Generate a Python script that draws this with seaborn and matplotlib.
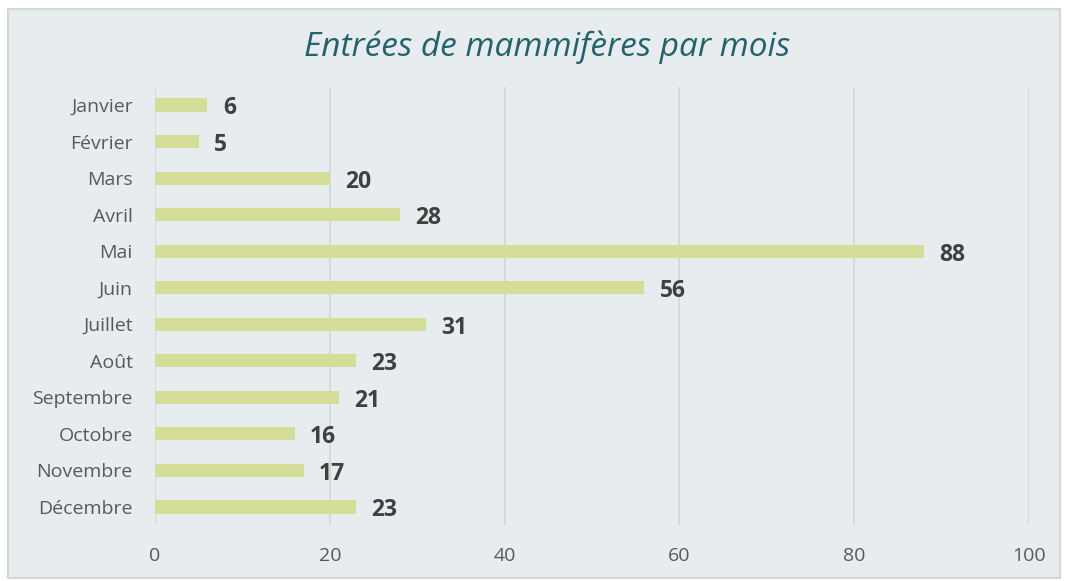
import matplotlib
matplotlib.use('Agg')
from matplotlib import pyplot as plt
from matplotlib.patches import Rectangle
import seaborn as sns
import pandas as pd

mois = ['Janvier', 'Février', 'Mars', 'Avril', 'Mai', 'Juin', 'Juillet',
        'Août', 'Septembre', 'Octobre', 'Novembre', 'Décembre']
entrees = [6, 5, 20, 28, 88, 56, 31, 23, 21, 16, 17, 23]
ticks_x = [0, 20, 40, 60, 80, 100]

df = pd.DataFrame({'mois': mois, 'entrees': entrees})

bg = '#E7ECEF'
sns.set_theme(style='white')
plt.rcParams['font.family'] = ['Open Sans', 'DejaVu Sans']

fig = plt.figure(figsize=(10.67, 5.81), dpi=100)
fig.patch.set_facecolor('white')

# chart area frame, on a background axes behind everything
bgax = fig.add_axes([0, 0, 1, 1], zorder=-1)
bgax.set_axis_off()
bgax.set_xlim(0, 1067)
bgax.set_ylim(581, 0)
bgax.add_patch(Rectangle((8, 9), 1052, 569, facecolor=bg,
                         edgecolor='#D6D6D6', linewidth=1.5))

ax = fig.add_axes([0.1453, 0.096, 0.8191, 0.7547])
ax.patch.set_alpha(0)

sns.barplot(data=df, x='entrees', y='mois', orient='h', color='#D4DE98',
            width=0.36, saturation=1, linewidth=0, ax=ax, zorder=3)

ax.set_xlim(0, 100)
ax.set_xticks(ticks_x)
ax.grid(axis='x', color='#D6D6D6', linewidth=1.3, zorder=0)
ax.grid(axis='y', visible=False)
ax.set_axisbelow(True)
for s in ax.spines.values():
    s.set_visible(False)
ax.tick_params(axis='both', length=0, labelsize=14, colors='#595959')
ax.tick_params(axis='x', pad=16)
ax.tick_params(axis='y', pad=16)
ax.set_xlabel('')
ax.set_ylabel('')

labels = ax.bar_label(ax.containers[0], labels=[str(v) for v in entrees], padding=11,
                      fontsize=16.5, fontweight='bold', color='#404040')
# values sit slightly below the bar centre in the original
for t in labels:
    t.xyann = (t.xyann[0], -2.5)

fig.text(0.513, 0.918, 'Entrées de mammifères par mois', ha='center', va='center',
         fontsize=24, style='italic', color='#22626B')

fig.savefig('out.png', dpi=100, facecolor='white')
